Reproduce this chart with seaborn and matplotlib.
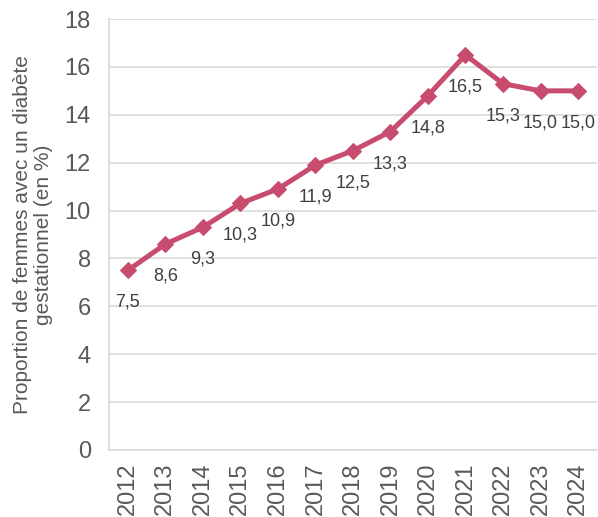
import matplotlib
matplotlib.use("Agg")
import matplotlib.pyplot as plt
import seaborn as sns
import pandas as pd

years = [2012, 2013, 2014, 2015, 2016, 2017, 2018, 2019, 2020, 2021, 2022, 2023, 2024]
values = [7.5, 8.6, 9.3, 10.3, 10.9, 11.9, 12.5, 13.3, 14.8, 16.5, 15.3, 15.0, 15.0]
yticks = [0, 2, 4, 6, 8, 10, 12, 14, 16, 18]
ylabel = "Proportion de femmes avec un diabète\ngestationnel (en %)"

sns.set_style("white")
plt.rcParams['font.family'] = ['Liberation Sans', 'DejaVu Sans']

df = pd.DataFrame({"year": years, "value": values})

fig = plt.figure(figsize=(5.98, 5.17), dpi=100)
ax = fig.add_axes([0.1823, 0.1296, 0.8157, 0.8336])

color = "#C74C6E"
grey = "#595959"
sns.lineplot(data=df, x="year", y="value", ax=ax, color=color, linewidth=3.6,
             marker="D", markersize=8.5, markeredgecolor=color, markerfacecolor=color)

for y, v in zip(years, values):
    ax.annotate(f"{v:.1f}".replace(".", ","), (y, v), xytext=(0, -23),
                textcoords="offset points", ha="center", va="center",
                fontsize=13, color="#404040")

ax.set_xlim(years[0] - 0.5, years[-1] + 0.5)
ax.set_ylim(0, 18)
ax.set_yticks(yticks)
ax.set_xticks(years)
ax.set_xticklabels([str(y) for y in years], rotation=90)
ax.tick_params(axis="both", length=0, colors=grey)
ax.tick_params(axis="x", pad=9, labelsize=17)
ax.tick_params(axis="y", pad=13, labelsize=17)
ax.grid(axis="y", color="#D9D9D9", linewidth=1.2)
ax.set_axisbelow(True)
for s in ["top", "right"]:
    ax.spines[s].set_visible(False)
for s in ["left", "bottom"]:
    ax.spines[s].set_color("#D9D9D9")
    ax.spines[s].set_linewidth(1.2)
ax.set_xlabel("")
ax.set_ylabel(ylabel, color=grey, fontsize=15, linespacing=1.1)
ax.yaxis.set_label_coords(-0.115, 0.5)

fig.savefig("out.png", dpi=100)
